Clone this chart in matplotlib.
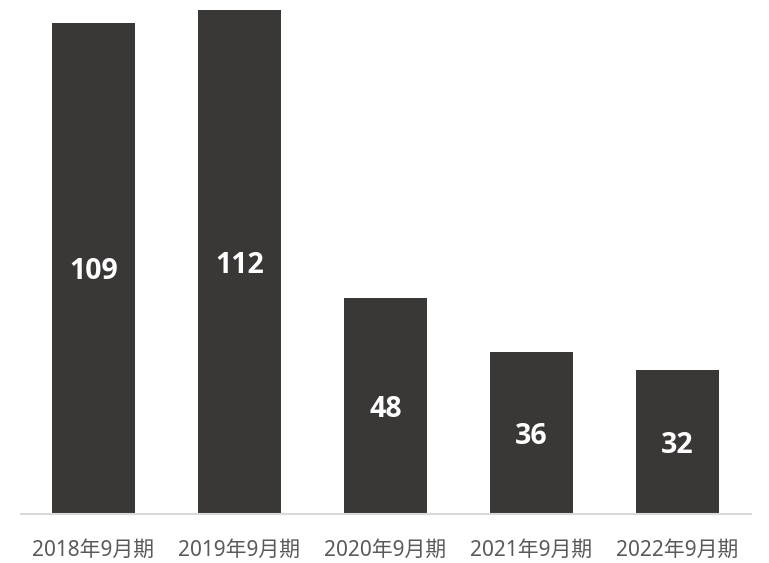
import matplotlib
matplotlib.use('Agg')
import matplotlib.pyplot as plt

periods = ['2018年9月期', '2019年9月期', '2020年9月期', '2021年9月期', '2022年9月期']
values = [109, 112, 48, 36, 32]

bar_color = '#3a3836'
tick_color = '#595959'

fig = plt.figure(figsize=(7.69, 5.63), dpi=100)
ax = fig.add_axes([20.5 / 769, 49.5 / 563, 730 / 769, 513.5 / 563])

x = range(len(periods))
bars = ax.bar(x, values, width=0.57, color=bar_color)

for rect, v in zip(bars, values):
    ax.annotate(str(v), (rect.get_x() + rect.get_width() / 2, v / 2),
                xytext=(0, -2.5), textcoords='offset points',
                ha='center', va='center', color='white', fontsize=20.5,
                fontweight='bold', family=['Open Sans', 'DejaVu Sans'])

ax.set_xlim(-0.5, len(periods) - 0.5)
ax.set_ylim(0, 114.2)
ax.set_xticks(list(x))
ax.set_xticklabels(periods, fontsize=15, color=tick_color,
                   family=['Noto Sans', 'Noto Sans CJK JP'])
ax.tick_params(axis='x', length=0, pad=19)
ax.set_yticks([])

for side in ['top', 'right', 'left']:
    ax.spines[side].set_visible(False)
ax.spines['bottom'].set_color('#d9d9d9')
ax.spines['bottom'].set_linewidth(1.5)

fig.savefig('out.png', dpi=100)
